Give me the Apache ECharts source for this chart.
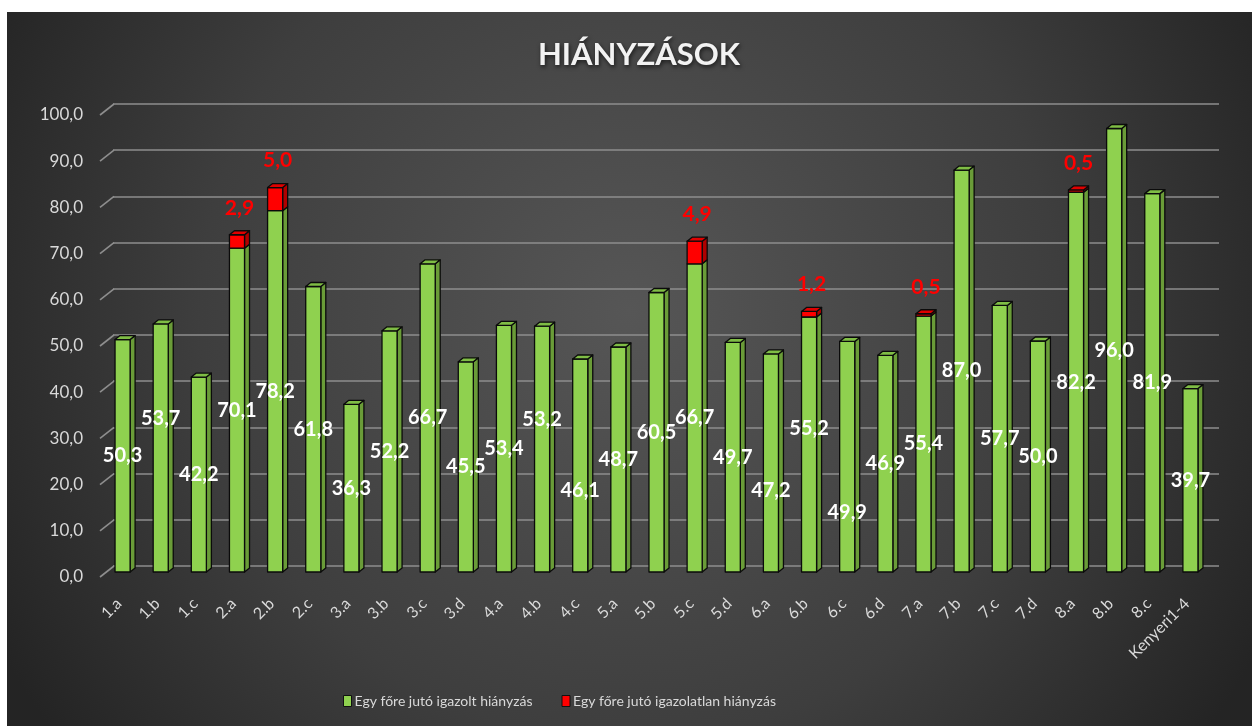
<!DOCTYPE html>
<html>
<head>
<meta charset="utf-8">
<style>
  html, body { margin: 0; padding: 0; background: #ffffff; width: 1252px; height: 726px; overflow: hidden; }
  #main { position: absolute; left: 7px; top: 12px; width: 1245px; height: 714px; }
</style>
<script src="https://cdn.jsdelivr.net/npm/echarts@6/dist/echarts.min.js"></script>
</head>
<body>
<div id="main"></div>
<script>
// ---- data ----
const categories = ['1.a','1.b','1.c','2.a','2.b','2.c','3.a','3.b','3.c','3.d','4.a','4.b','4.c','5.a','5.b','5.c','5.d','6.a','6.b','6.c','6.d','7.a','7.b','7.c','7.d','8.a','8.b','8.c','Kenyeri1-4'];
const igazolt = [50.3,53.7,42.2,70.1,78.2,61.8,36.3,52.2,66.7,45.5,53.4,53.2,46.1,48.7,60.5,66.7,49.7,47.2,55.2,49.9,46.9,55.4,87.0,57.7,50.0,82.2,96.0,81.9,39.7];
const igazolatlan = [0,0,0,2.9,5.0,0,0,0,0,0,0,0,0,0,0,4.9,0,0,1.2,0,0,0.5,0,0,0,0.5,0,0,0];
const yTicks = [0,10,20,30,40,50,60,70,80,90,100];
const seriesNames = ['Egy főre jutó igazolt hiányzás', 'Egy főre jutó igazolatlan hiányzás'];
const titleText = 'HIÁNYZÁSOK';

// manual label nudges (px, down positive), as placed in the original
const labelNudge = { '1.b': -29, '4.b': -30, '4.c': 25, '6.a': 28, '6.b': -16, '6.c': 56 };

const FONT = 'Lato, "Open Sans", sans-serif';
const fmt = v => v.toFixed(1).replace('.', ',');
const GRID_COLOR = '#8e8e8e';
const DEPTH_X = 5, DEPTH_Y = 4;

function barParts(api, i, v0, v1, cols, withTop) {
  const p0 = api.coord([i, v0]);
  const p1 = api.coord([i, v1]);
  const bw = api.size([1, 0])[0] * 0.395;
  const cx = p0[0];
  const xl = cx - bw / 2, xr = cx + bw / 2;
  const yb = p0[1], yt = p1[1];
  const stroke = { stroke: '#0b0b0b', lineWidth: 1.3, lineJoin: 'round' };
  const kids = [
    { type: 'polygon', shape: { points: [[xr, yb], [xr + DEPTH_X, yb - DEPTH_Y], [xr + DEPTH_X, yt - DEPTH_Y], [xr, yt]] },
      style: Object.assign({ fill: cols.side }, stroke) },
    { type: 'rect', shape: { x: xl, y: yt, width: bw, height: yb - yt },
      style: Object.assign({ fill: cols.front }, stroke) }
  ];
  if (withTop) {
    kids.push({ type: 'polygon', shape: { points: [[xl, yt], [xr, yt], [xr + DEPTH_X, yt - DEPTH_Y], [xl + DEPTH_X, yt - DEPTH_Y]] },
      style: Object.assign({ fill: cols.top }, stroke) });
  }
  return { kids, cx, yb, yt };
}

const greenCols = { front: '#8fd14f', side: '#6a9c38', top: '#7fbd45' };
const redCols = { front: '#ff0000', side: '#b00000', top: '#e00000' };

const chart = echarts.init(document.getElementById('main'), null, { renderer: 'canvas' });

const option = {
  animation: false,
  backgroundColor: {
    type: 'radial', x: 0.5, y: 0.42, r: 1.0,
    colorStops: [ { offset: 0, color: '#565656' }, { offset: 0.6, color: '#3e3e3e' }, { offset: 1, color: '#242424' } ]
  },
  title: {
    text: titleText, left: 627, top: 22, textAlign: 'center',
    textStyle: { color: '#f2f2f2', fontFamily: FONT, fontWeight: 'bold', fontSize: 31,
      textShadowColor: 'rgba(0,0,0,0.65)', textShadowBlur: 4, textShadowOffsetX: 1, textShadowOffsetY: 2 }
  },
  legend: {
    data: seriesNames, left: 336, top: 682, padding: 0, itemGap: 29, itemWidth: 8, itemHeight: 11,
    icon: 'rect', itemStyle: { borderColor: '#111', borderWidth: 1 },
    textStyle: { color: '#d9d9d9', fontFamily: FONT, fontSize: 14, padding: [0, 0, 0, -2] }
  },
  grid: [
    { left: 106, right: 33, top: 92, bottom: 160 },   // back wall (gridlines)
    { left: 93, right: 46, top: 103, bottom: 149 },   // front floor edge (axis labels)
    { left: 96.5, right: 42.5, top: 98, bottom: 154 } // bar front faces
  ],
  xAxis: [
    { type: 'category', gridIndex: 0, data: categories, show: false },
    { type: 'category', gridIndex: 1, data: categories,
      axisLine: { show: false }, axisTick: { show: false },
      axisLabel: { rotate: 45, margin: 24, interval: 0, color: '#d9d9d9', fontFamily: FONT, fontSize: 16 } },
    { type: 'category', gridIndex: 2, data: categories, show: false }
  ],
  yAxis: [
    { type: 'value', gridIndex: 0, min: 0, max: 100, interval: 10,
      axisLine: { show: false }, axisTick: { show: false }, axisLabel: { show: false },
      splitLine: { show: true, lineStyle: { color: GRID_COLOR, width: 1.6 } } },
    { type: 'value', gridIndex: 1, min: 0, max: 100, interval: 10,
      axisLine: { show: false }, axisTick: { show: false }, splitLine: { show: false },
      axisLabel: { margin: 17, color: '#d9d9d9', fontFamily: FONT, fontSize: 17, formatter: fmt } },
    { type: 'value', gridIndex: 2, min: 0, max: 100, interval: 10, show: false, splitLine: { show: false } }
  ],
  series: [
    {
      type: 'custom', name: 'grid-slant', xAxisIndex: 0, yAxisIndex: 0, silent: true, z: 1,
      data: yTicks.map(v => [0, v]),
      renderItem: function (params, api) {
        const y = api.coord([0, api.value(1)])[1];
        const x0 = params.coordSys.x;
        return { type: 'line', shape: { x1: x0 + 1, y1: y, x2: x0 - 13, y2: y + 11 },
          style: { stroke: GRID_COLOR, lineWidth: 1.6 } };
      }
    },
    {
      type: 'custom', name: seriesNames[0], xAxisIndex: 2, yAxisIndex: 2, z: 3,
      itemStyle: { color: '#8fd14f' },
      encode: { x: 0, y: 1 },
      data: categories.map((c, i) => [i, igazolt[i], igazolatlan[i]]),
      renderItem: function (params, api) {
        const i = api.value(0), g = api.value(1), r = api.value(2);
        const b = barParts(api, i, 0, g, greenCols, !(r > 0));
        const nudge = labelNudge[categories[i]] || 0;
        b.kids.push({ type: 'text', z2: 10,
          style: { text: fmt(g), x: b.cx, y: (b.yb + b.yt) / 2 + nudge, fill: '#ffffff',
            font: 'bold 20px ' + FONT, align: 'center', verticalAlign: 'middle' } });
        return { type: 'group', children: b.kids };
      }
    },
    {
      type: 'custom', name: seriesNames[1], xAxisIndex: 2, yAxisIndex: 2, z: 4,
      itemStyle: { color: '#ff0000' },
      encode: { x: 0, y: 2 },
      data: categories.map((c, i) => [i, igazolt[i], igazolatlan[i]]),
      renderItem: function (params, api) {
        const i = api.value(0), g = api.value(1), r = api.value(2);
        if (!(r > 0)) return null;
        const b = barParts(api, i, g, g + r, redCols, true);
        b.kids.push({ type: 'text', z2: 10,
          style: { text: fmt(r), x: b.cx + 2.5, y: b.yt - 27, fill: '#ff0000',
            font: 'bold 21px ' + FONT, align: 'center', verticalAlign: 'middle' } });
        return { type: 'group', children: b.kids };
      }
    }
  ]
};
chart.setOption(option);
</script>
</body>
</html>
